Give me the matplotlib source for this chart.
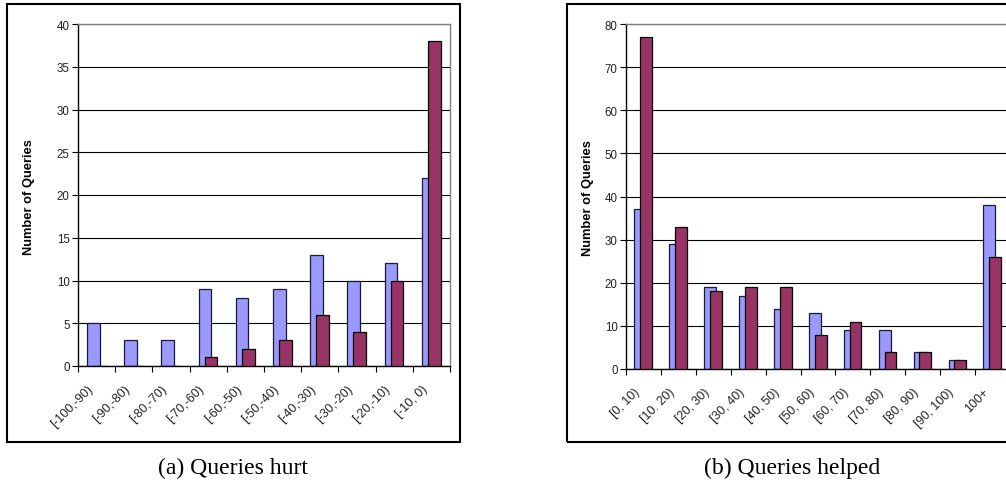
import matplotlib
matplotlib.use("Agg")
import matplotlib.pyplot as plt
import matplotlib.transforms as mtransforms
from matplotlib.patches import Rectangle
import numpy as np

hurt_cats = ["[-100,-90)", "[-90,-80)", "[-80,-70)", "[-70,-60)", "[-60,-50)",
             "[-50,-40)", "[-40,-30)", "[-30,-20)", "[-20,-10)", "[-10, 0)"]
hurt_blue = [5, 3, 3, 9, 8, 9, 13, 10, 12, 22]
hurt_red = [0, 0, 0, 1, 2, 3, 6, 4, 10, 38]

helped_cats = ["[0, 10)", "[10. 20)", "[20, 30)", "[30, 40)", "[40, 50)", "[50, 60)",
               "[60, 70)", "[70, 80)", "[80, 90)", "[90, 100)", "100+"]
helped_blue = [37, 29, 19, 17, 14, 13, 9, 9, 4, 2, 38]
helped_red = [77, 33, 18, 19, 19, 8, 11, 4, 4, 2, 26]

BLUE = "#9999FF"
RED = "#993366"
W, H = 1006, 481

plt.rcParams['font.family'] = ['Liberation Sans', 'DejaVu Sans']
fig = plt.figure(figsize=(W / 100, H / 100), dpi=100)


def px_axes(x0, x1, ytop, ybot):
    return fig.add_axes([x0 / W, (H - ybot) / H, (x1 - x0) / W, (ybot - ytop) / H])


def draw(ax, cats, blue, red, ymax, ystep):
    n = len(cats)
    idx = np.arange(n)
    bw = 0.34
    ax.bar(idx + 0.41, blue, width=bw, color=BLUE, edgecolor="#1a1a33", linewidth=0.9, zorder=2)
    ax.bar(idx + 0.575, red, width=bw, color=RED, edgecolor="black", linewidth=0.9, zorder=3)
    ax.set_xlim(0, n)
    ax.set_ylim(0, ymax)
    ax.set_yticks(np.arange(0, ymax + 1, ystep))
    ax.yaxis.grid(True, color="black", linewidth=0.8, zorder=0)
    ax.set_axisbelow(True)
    ax.set_xticks(np.arange(n + 1))
    ax.set_xticklabels([])
    ax.set_xticks(idx + 0.5, minor=True)
    ax.set_xticklabels(cats, minor=True, rotation=45, ha="right", va="top",
                       rotation_mode="anchor", fontsize=9, color="#222222")
    ax.tick_params(axis="x", which="minor", length=0, pad=12)
    ax.tick_params(axis="x", which="major", direction="out", length=4, width=0.8)
    ax.tick_params(axis="y", direction="out", length=4, width=0.8, labelsize=8.3, pad=2,
                   labelcolor="#222222")
    off = mtransforms.ScaledTranslation(-0.10, 0, fig.dpi_scale_trans)
    for lab in ax.get_xticklabels(minor=True):
        lab.set_transform(lab.get_transform() + off)
    for s in ("top", "right"):
        ax.spines[s].set_color("#808080")
        ax.spines[s].set_linewidth(1.0)
    for s in ("left", "bottom"):
        ax.spines[s].set_color("black")
        ax.spines[s].set_linewidth(1.0)


ax1 = px_axes(78, 450, 25, 367)
draw(ax1, hurt_cats, hurt_blue, hurt_red, 40, 5)
ax2 = px_axes(626, 1010, 25, 370)
draw(ax2, helped_cats, helped_blue, helped_red, 80, 10)

# outer boxes
fig.patches.append(Rectangle((7 / W, (H - 443) / H), (460 - 7) / W, (443 - 5) / H,
                             transform=fig.transFigure, fill=False, edgecolor="black",
                             linewidth=1.5, clip_on=False))
fig.patches.append(Rectangle((567 / W, (H - 443) / H), (1030 - 567) / W, (443 - 5) / H,
                             transform=fig.transFigure, fill=False, edgecolor="black",
                             linewidth=1.5, clip_on=False))

fig.text(29 / W, (H - 197) / H, "Number of Queries", rotation=90, ha="center", va="center",
         fontsize=9.3, fontweight="bold")
fig.text(588 / W, (H - 198) / H, "Number of Queries", rotation=90, ha="center", va="center",
         fontsize=9.3, fontweight="bold")

fig.text(233 / W, (H - 468) / H, "(a) Queries hurt", ha="center", va="center",
         fontsize=17, family=["Liberation Serif", "DejaVu Serif"])
fig.text(792 / W, (H - 468) / H, "(b) Queries helped", ha="center", va="center",
         fontsize=17, family=["Liberation Serif", "DejaVu Serif"])

fig.savefig("out.png", dpi=100)
